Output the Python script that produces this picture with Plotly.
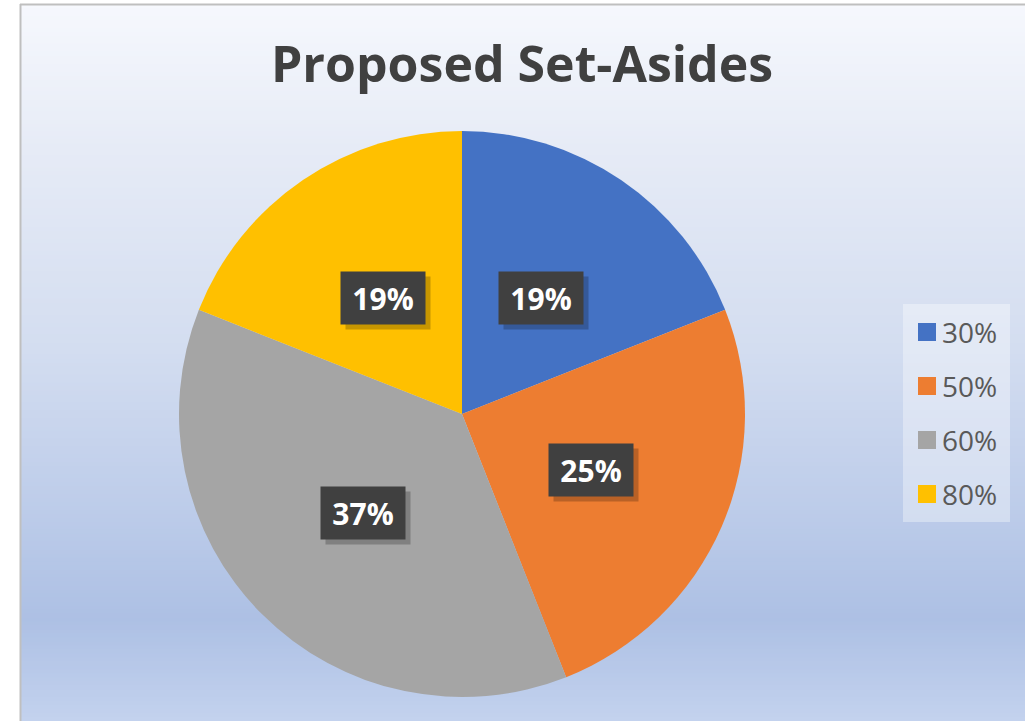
import math
import plotly.graph_objects as go

# ---- data ----
categories = ["30%", "50%", "60%", "80%"]
values = [19, 25, 37, 19]
colors = ["#4472C4", "#ED7D31", "#A5A5A5", "#FFC000"]
title = "Proposed Set-Asides"

W, H = 1025, 721

def px(x):
    return x / W

def py(y):
    return 1 - y / H

# pie geometry (pixels)
pie_left, pie_right, pie_top, pie_bottom = 179, 745, 131, 697
cx = (pie_left + pie_right) / 2
cy = (pie_top + pie_bottom) / 2
R = (pie_right - pie_left) / 2

fig = go.Figure(go.Pie(
    labels=categories, values=values, sort=False, direction="clockwise", rotation=0,
    marker=dict(colors=colors, line=dict(width=0)),
    textinfo="none", hoverinfo="label+percent", showlegend=False,
    domain=dict(x=[px(pie_left), px(pie_right)], y=[py(pie_bottom), py(pie_top)]),
))

shapes = []
# background gradient (styling)
stops = [(4, (246, 248, 253)), (150, (230, 235, 246)), (350, (211, 221, 240)),
         (500, (190, 205, 234)), (620, (173, 192, 228)), (721, (195, 210, 238))]

def col_at(y):
    for (y0, c0), (y1, c1) in zip(stops[:-1], stops[1:]):
        if y0 <= y <= y1:
            t = (y - y0) / (y1 - y0)
            return "rgb(%d,%d,%d)" % tuple(round(a + (b - a) * t) for a, b in zip(c0, c1))
    return "rgb(%d,%d,%d)" % stops[-1][1]

n = 180
for i in range(n):
    y0 = 4 + (721 - 4) * i / n
    y1 = 4 + (721 - 4) * (i + 1) / n + 0.8
    shapes.append(dict(type="rect", xref="paper", yref="paper", x0=px(20), x1=1.0,
                       y0=py(y1), y1=py(y0), line=dict(width=0),
                       fillcolor=col_at((y0 + y1) / 2), layer="below"))
# chart border
shapes.append(dict(type="line", xref="paper", yref="paper", x0=px(20.5), x1=px(20.5),
                   y0=0, y1=py(4), line=dict(color="#BFBFBF", width=2), layer="below"))
shapes.append(dict(type="line", xref="paper", yref="paper", x0=px(20), x1=1,
                   y0=py(4.5), y1=py(4.5), line=dict(color="#BFBFBF", width=2), layer="below"))

# legend (custom, larger symbols)
leg_x0, leg_x1, leg_y0, leg_y1 = 903, 1010, 304, 522
shapes.append(dict(type="rect", xref="paper", yref="paper", x0=px(leg_x0), x1=px(leg_x1),
                   y0=py(leg_y1), y1=py(leg_y0), line=dict(width=0),
                   fillcolor="rgba(255,255,255,0.35)", layer="below"))
annotations = []
for i, (cat, c) in enumerate(zip(categories, colors)):
    yc = 332 + 54 * i
    shapes.append(dict(type="rect", xref="paper", yref="paper", x0=px(918), x1=px(936),
                       y0=py(yc + 9), y1=py(yc - 9), line=dict(width=0), fillcolor=c))
    annotations.append(dict(text=cat, xref="paper", yref="paper", x=px(940), y=py(yc),
                            xanchor="left", yanchor="middle", showarrow=False,
                            font=dict(family="Open Sans", size=28, color="#595959")))

# data labels (positions derived from values)
total = sum(values)
cum = 0
for v in values:
    mid = (cum + v / 2) / total * 2 * math.pi
    cum += v
    lx = cx + 0.495 * R * math.sin(mid)
    ly = cy - 0.495 * R * math.cos(mid)
    txt = "%d%%" % round(v / total * 100)
    annotations.append(dict(text="", xref="paper", yref="paper", x=px(lx + 5), y=py(ly + 5),
                            xanchor="center", yanchor="middle", showarrow=False,
                            width=82, height=50, bgcolor="rgba(0,0,0,0.22)"))
    annotations.append(dict(text="<b>%s</b>" % txt, xref="paper", yref="paper", x=px(lx), y=py(ly),
                            xanchor="center", yanchor="middle", showarrow=False,
                            width=82, height=50, bgcolor="#404040",
                            font=dict(family="Open Sans", size=30, color="white")))

fig.update_layout(
    width=W, height=H, autosize=False,
    margin=dict(l=0, r=0, t=0, b=0),
    paper_bgcolor="white",
    title=dict(text="<b>%s</b>" % title, x=px(522), y=py(64), xanchor="center", yanchor="middle",
               xref="paper", yref="paper",
               font=dict(family="Open Sans", size=50, color="#404040")),
    shapes=shapes, annotations=annotations, showlegend=False,
)

fig.write_html("out.html", config={"displayModeBar": False},
               post_script="document.body.style.margin='0';document.body.style.overflow='hidden';")
